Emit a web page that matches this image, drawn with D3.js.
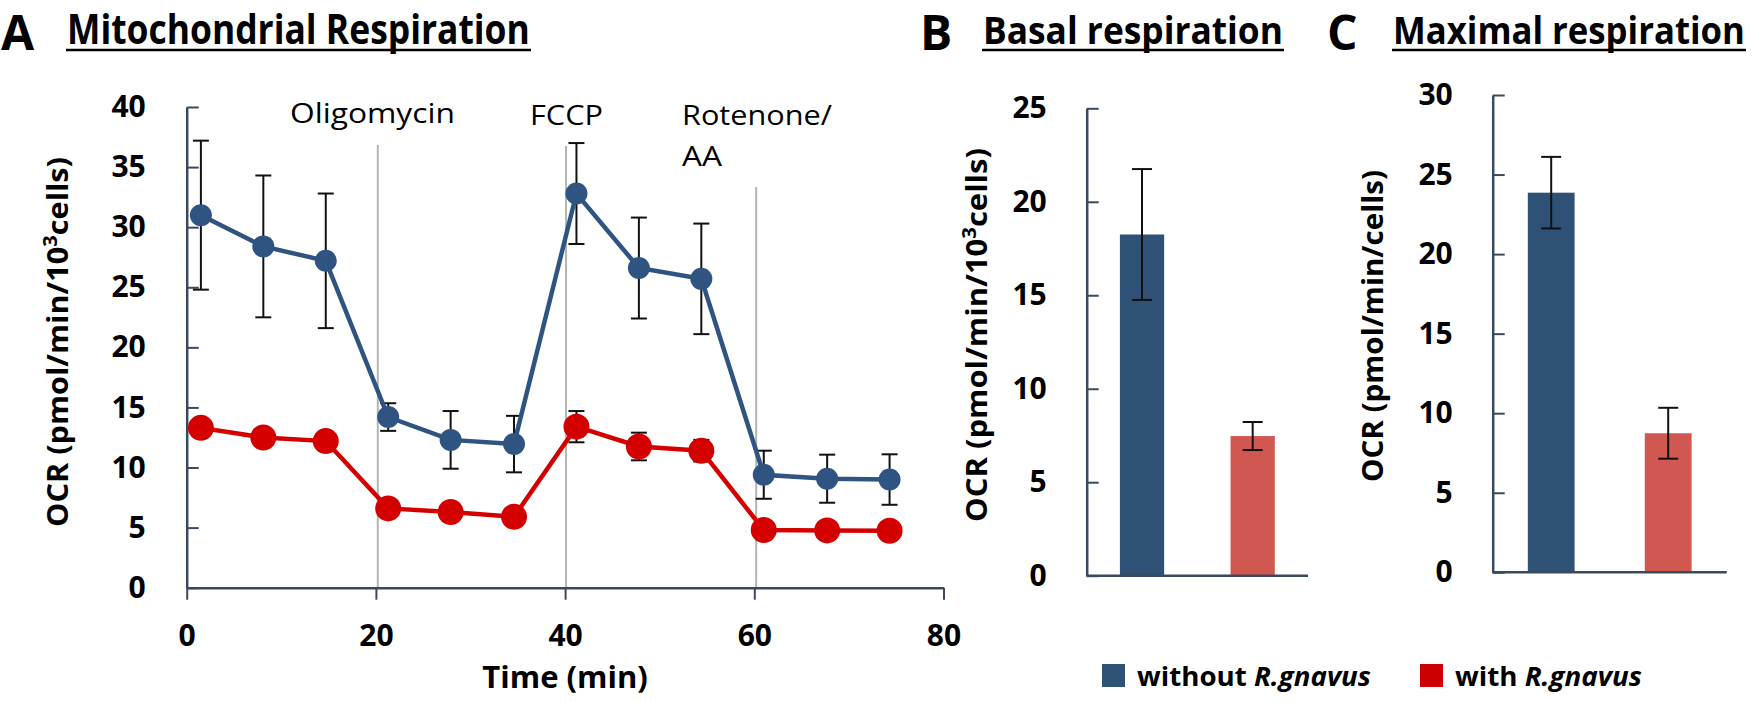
<!DOCTYPE html>
<html>
<head>
<meta charset="utf-8">
<script src="https://cdn.jsdelivr.net/npm/d3@7"></script>
<style>
  html, body { margin: 0; padding: 0; background: #fff; }
  svg { display: block; font-family: "Open Sans", "Noto Sans", sans-serif; }
</style>
</head>
<body>
<svg id="chart" width="1758" height="702"></svg>
<script>
// ---------- Data ----------
const times = [1.5, 8.1, 14.7, 21.3, 27.9, 34.6, 41.2, 47.8, 54.4, 61.0, 67.7, 74.3];
const ocrWithout = [31.0, 28.4, 27.2, 14.2, 12.3, 11.95, 32.8, 26.6, 25.7, 9.4, 9.07, 9.0];
const errWithout = [6.2, 5.9, 5.6, 1.15, 2.4, 2.35, 4.2, 4.2, 4.6, 2.0, 2.0, 2.1];
const ocrWith = [13.3, 12.5, 12.2, 6.6, 6.3, 5.9, 13.4, 11.75, 11.4, 4.8, 4.77, 4.74];
const errWith = [0.5, 0.4, 0.4, 0.3, 0.3, 0.3, 1.3, 1.15, 0.9, 0.3, 0.3, 0.3];

const injections = ["Oligomycin", "FCCP", "Rotenone/AA"];
const injectionTimes = [20.2, 40.1, 60.2];
const xTicksA = [0, 20, 40, 60, 80];
const yTicksA = [0, 5, 10, 15, 20, 25, 30, 35, 40];

const groups = ["without R.gnavus", "with R.gnavus"];
const basalValues = [18.25, 7.47];
const basalErrors = [3.5, 0.75];
const maximalValues = [23.86, 8.74];
const maximalErrors = [2.25, 1.6];
const yTicksB = [0, 5, 10, 15, 20, 25];
const yTicksC = [0, 5, 10, 15, 20, 25, 30];

// ---------- Styles ----------
const blue = "#2f5482";
const red = "#d40000";
const barBlue = "#2f5175";
const barRed = "#d05850";
const axisColor = "#3a4a5e";
const svg = d3.select("#chart");

// squeeze a text horizontally to a target width (keeps glyph height)
function fitText(t, x, y, len) {
  const natural = t.node().getComputedTextLength();
  const k = natural > 0 ? len / natural : 1;
  t.attr("x", 0).attr("y", 0).attr("transform", `translate(${x},${y}) scale(${k},1)`);
  return t;
}

function styleAxis(g) {
  g.selectAll(".domain").attr("stroke", axisColor).attr("stroke-width", 2.5);
  g.selectAll(".tick line").attr("stroke", axisColor).attr("stroke-width", 2);
  g.selectAll(".tick text").attr("fill", "#000").attr("font-size", 30)
    .attr("font-weight", "bold").attr("font-family", "'Open Sans', sans-serif");
}

function title(letter, lx, text, tx, size, len) {
  svg.append("text").attr("x", lx).attr("y", 50).attr("font-size", 48)
    .attr("font-weight", "bold").text(letter);
  const t = svg.append("text").attr("font-size", size).attr("font-weight", "bold").text(text);
  fitText(t, tx, 44, len);
  svg.append("line").attr("x1", tx - 1).attr("x2", tx + len + 1)
    .attr("y1", 50).attr("y2", 50).attr("stroke", "#000").attr("stroke-width", 2.5);
}

function yTitle(cx, cy, len, withSup, tail) {
  const t = svg.append("text")
    .attr("transform", `translate(${cx},${cy}) rotate(-90)`)
    .attr("text-anchor", "middle").attr("dy", "0.35em")
    .attr("font-size", 29).attr("font-weight", "bold")
    .attr("textLength", len).attr("lengthAdjust", "spacingAndGlyphs");
  if (withSup) {
    t.append("tspan").text("OCR (pmol/min/10");
    t.append("tspan").attr("dy", -11).attr("font-size", 19).text("3");
    t.append("tspan").attr("dy", 11).text("cells)");
  } else {
    t.text(tail);
  }
}

// ---------- Panel A ----------
const xA = d3.scaleLinear().domain([0, 80]).range([186.7, 943.5]);
const yA = d3.scaleLinear().domain([0, 40]).range([587.7, 107]);
const injTop = [145, 146, 187];

svg.append("g").selectAll("line").data(injectionTimes).join("line")
  .attr("x1", d => xA(d)).attr("x2", d => xA(d))
  .attr("y1", (d, i) => injTop[i]).attr("y2", yA(0))
  .attr("stroke", "#b4b4b4").attr("stroke-width", 2);

const gxA = svg.append("g").attr("transform", `translate(0,${yA(0)})`)
  .call(d3.axisBottom(xA).tickValues(xTicksA).tickSizeInner(12).tickSizeOuter(0).tickPadding(25));
styleAxis(gxA);
const gyA = svg.append("g").attr("transform", `translate(${xA(0)},0)`)
  .call(d3.axisLeft(yA).tickValues(yTicksA).tickSizeInner(-12).tickSizeOuter(0).tickPadding(41));
styleAxis(gyA);

// injection labels
const injLabels = [
  {t: "Oligomycin", x: 290, y: 123, len: 165},
  {t: "FCCP", x: 530, y: 125, len: 73},
  {t: "Rotenone/", x: 682, y: 125, len: 150},
  {t: "AA", x: 682, y: 166, len: 40}
];
injLabels.forEach(d => {
  const t = svg.append("text").attr("font-size", 28).text(d.t);
  fitText(t, d.x, d.y, d.len);
});

function errorBarsA(vals, errs, cap) {
  const g = svg.append("g").attr("stroke", "#111").attr("stroke-width", 2);
  times.forEach((t, i) => {
    const x = xA(t), y1 = yA(vals[i] + errs[i]), y2 = yA(vals[i] - errs[i]);
    g.append("line").attr("x1", x).attr("x2", x).attr("y1", y1).attr("y2", y2);
    g.append("line").attr("x1", x - cap).attr("x2", x + cap).attr("y1", y1).attr("y2", y1);
    g.append("line").attr("x1", x - cap).attr("x2", x + cap).attr("y1", y2).attr("y2", y2);
  });
}
errorBarsA(ocrWithout, errWithout, 8);
errorBarsA(ocrWith, errWith, 8);

const lineGen = vals => d3.line().x((d, i) => xA(times[i])).y(d => yA(d))(vals);
svg.append("path").attr("d", lineGen(ocrWithout)).attr("fill", "none")
  .attr("stroke", blue).attr("stroke-width", 4.5);
svg.append("path").attr("d", lineGen(ocrWith)).attr("fill", "none")
  .attr("stroke", red).attr("stroke-width", 4.5);
svg.append("g").selectAll("circle").data(ocrWithout).join("circle")
  .attr("cx", (d, i) => xA(times[i])).attr("cy", d => yA(d)).attr("r", 11).attr("fill", blue);
svg.append("g").selectAll("circle").data(ocrWith).join("circle")
  .attr("cx", (d, i) => xA(times[i])).attr("cy", d => yA(d)).attr("r", 13).attr("fill", red);

svg.append("text").attr("x", xA(40)).attr("y", 688).attr("text-anchor", "middle")
  .attr("font-size", 31).attr("font-weight", "bold").text("Time (min)");
yTitle(58, 342, 370, true);
title("A", 1, "Mitochondrial Respiration", 67, 41, 463);

// ---------- Bar panels ----------
function barPanel(values, errors, ticks, yMax, x0, x1, yBottom, yTop, cap) {
  const x = d3.scaleBand().domain(groups).range([x0, x1]).paddingInner(0.6).paddingOuter(0.3);
  const y = d3.scaleLinear().domain([0, yMax]).range([yBottom, yTop]);
  const colors = [barBlue, barRed];
  svg.append("g").selectAll("rect").data(values).join("rect")
    .attr("x", (d, i) => x(groups[i])).attr("width", x.bandwidth())
    .attr("y", d => y(d)).attr("height", d => y(0) - y(d))
    .attr("fill", (d, i) => colors[i]);
  const g = svg.append("g").attr("stroke", "#111").attr("stroke-width", 2);
  values.forEach((v, i) => {
    const cx = x(groups[i]) + x.bandwidth() / 2;
    const y1 = y(v + errors[i]), y2 = y(v - errors[i]);
    g.append("line").attr("x1", cx).attr("x2", cx).attr("y1", y1).attr("y2", y2);
    g.append("line").attr("x1", cx - cap).attr("x2", cx + cap).attr("y1", y1).attr("y2", y1);
    g.append("line").attr("x1", cx - cap).attr("x2", cx + cap).attr("y1", y2).attr("y2", y2);
  });
  const gy = svg.append("g").attr("transform", `translate(${x0},0)`)
    .call(d3.axisLeft(y).tickValues(ticks).tickSizeInner(-12).tickSizeOuter(0).tickPadding(40));
  styleAxis(gy);
  svg.append("line").attr("x1", x0).attr("x2", x1).attr("y1", y(0)).attr("y2", y(0))
    .attr("stroke", axisColor).attr("stroke-width", 2.5);
}

barPanel(basalValues, basalErrors, yTicksB, 25, 1086.7, 1308, 575.7, 108.3, 10);
yTitle(977, 335, 374, true);
title("B", 920, "Basal respiration", 983, 38, 300);

barPanel(maximalValues, maximalErrors, yTicksC, 30, 1492.7, 1726.7, 572.3, 95, 10);
yTitle(1373, 326, 312, false, "OCR (pmol/min/cells)");
title("C", 1327, "Maximal respiration", 1393, 38, 352);

// ---------- Legend ----------
const legendItems = [
  {pre: "without ", it: "R.gnavus", color: "#2f5175", sx: 1102, tx: 1137, len: 234},
  {pre: "with ", it: "R.gnavus", color: "#cc0000", sx: 1420, tx: 1455, len: 187}
];
legendItems.forEach(d => {
  svg.append("rect").attr("x", d.sx).attr("y", 664).attr("width", 23).attr("height", 23).attr("fill", d.color);
  const t = svg.append("text").attr("font-size", 26).attr("font-weight", "bold");
  t.append("tspan").text(d.pre);
  t.append("tspan").attr("font-style", "italic").text(d.it);
  fitText(t, d.tx, 686, d.len);
});
</script>
</body>
</html>
